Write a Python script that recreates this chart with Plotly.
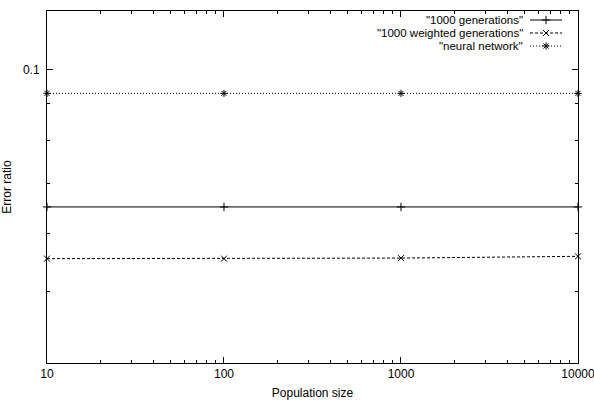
import plotly.graph_objects as go

# ---- data ----
population = [10, 100, 1000, 10000]
gen1000 = [0.0651, 0.0651, 0.0651, 0.0651]
weighted1000 = [0.0554, 0.0554, 0.0555, 0.0558]
neural = [0.0928, 0.0928, 0.0928, 0.0928]

series_names = ['"1000 generations"', '"1000 weighted generations"', '"neural network"']
x_tick_vals = [10, 100, 1000, 10000]
x_tick_text = ["10", "100", "1000", "10000"]
x_minor = [m * d for d in (10, 100, 1000) for m in range(2, 10)]
y_tick_vals = [0.1]
y_tick_text = ["0.1"]
y_minor = [0.04, 0.05, 0.06, 0.07, 0.08, 0.09]

FONT = "Liberation Sans, Arial, sans-serif"
styles = [
    dict(dash="solid", symbol="cross-thin"),
    dict(dash="3px,2px", symbol="x-thin"),
    dict(dash="1px,2px", symbol="asterisk"),
]

fig = go.Figure()
for name, ys, st in zip(series_names, [gen1000, weighted1000, neural], styles):
    fig.add_trace(go.Scatter(
        x=population, y=ys, mode="lines+markers", name=name,
        line=dict(color="black", width=1, dash=st["dash"]),
        marker=dict(symbol=st["symbol"], size=6, color="black",
                    line=dict(color="black", width=1)),
        showlegend=False, cliponaxis=False,
    ))

# manual gnuplot-style legend (text left of sample) on an overlay pixel axis
legend_rows = [20.0, 33.0, 46.0]
for name, st, ry in zip(series_names, styles, legend_rows):
    fig.add_trace(go.Scatter(
        x=[530, 562], y=[ry, ry], mode="lines", xaxis="x2", yaxis="y2",
        line=dict(color="black", width=1, dash=st["dash"]), showlegend=False,
        hoverinfo="skip"))
    fig.add_trace(go.Scatter(
        x=[546], y=[ry], mode="markers", xaxis="x2", yaxis="y2",
        marker=dict(symbol=st["symbol"], size=6, color="black",
                    line=dict(color="black", width=1)),
        showlegend=False, hoverinfo="skip"))
    fig.add_annotation(x=524, y=ry, xref="x2", yref="y2", text=name,
                       showarrow=False, xanchor="right", yanchor="middle",
                       borderpad=0,
                       font=dict(family=FONT, size=11.5, color="black"))

axis_common = dict(
    showline=True, linecolor="black", linewidth=1, mirror="allticks",
    ticks="inside", tickcolor="black", tickwidth=1, ticklen=6,
    showgrid=False, zeroline=False, automargin=False,
    ticklabeloverflow="allow",
    tickfont=dict(family=FONT, size=12, color="black"),
)

fig.update_layout(
    width=594, height=408,
    margin=dict(l=47, r=16, t=11, b=45),
    paper_bgcolor="white", plot_bgcolor="white",
    font=dict(family=FONT, size=12, color="black"),
    xaxis=dict(
        type="log", range=[1, 4.0001],
        tickmode="array", tickvals=x_tick_vals, ticktext=x_tick_text,
        minor=dict(tickmode="array", tickvals=x_minor, ticks="inside",
                   ticklen=3, tickcolor="black", showgrid=False),
        title=dict(text="Population size", standoff=8,
                   font=dict(family=FONT, size=12, color="black")),
        **axis_common,
    ),
    yaxis=dict(
        type="log", range=[-1.39794, -0.920819],
        tickmode="array", tickvals=y_tick_vals, ticktext=y_tick_text,
        minor=dict(tickmode="array", tickvals=y_minor, ticks="inside",
                   ticklen=3, tickcolor="black", showgrid=False),
        ticklabelstandoff=4,
        title=dict(text="Error ratio", standoff=13,
                   font=dict(family=FONT, size=12, color="black")),
        **axis_common,
    ),
    xaxis2=dict(overlaying="x", range=[47, 578], visible=False),
    yaxis2=dict(overlaying="y", range=[363, 11], visible=False),
)

fig.write_html("out.html")
